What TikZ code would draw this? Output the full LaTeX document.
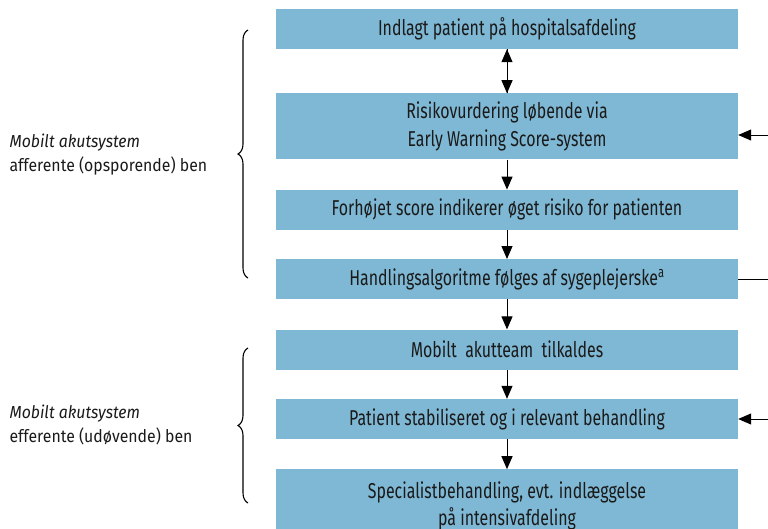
\documentclass[tikz,border=0pt]{standalone}
\usepackage{fontspec}
\setmainfont{Fira Sans}[FakeStretch=0.74]
\newfontfamily\sidefont{Fira Sans}[FakeStretch=0.91]
\usepackage{tikz}
\usetikzlibrary{positioning,arrows.meta,decorations.pathreplacing}
\definecolor{boxblue}{RGB}{127,184,212}
\definecolor{ink}{RGB}{26,26,26}

\begin{document}
\begin{tikzpicture}[x=1pt,y=-1pt,node distance = 30pt,
    box/.style={fill=boxblue, minimum width=462pt, minimum height=40pt, inner sep=2pt,
                align=center, text=ink, font=\fontsize{21.5}{28}\selectfont},
    arr/.style={-{Triangle[length=13pt,width=11pt]}, line width=1pt},
    brc/.style={decorate, decoration={brace, amplitude=10pt, aspect=0.5}, line width=1.1pt},
    side/.style={anchor=west, align=left, text=ink, font=\sidefont\fontsize{17.4}{24}\selectfont}]
    \useasboundingbox (0,0) rectangle (768,528);
            \node (b1) [box] at (507,29) {Indlagt patient på hospitalsafdeling};
            \node (b2) [box, minimum height=66pt, below=44pt of b1] {Risikovurdering løbende via\\Early Warning Score-system};
            \node (b3) [box, below=of b2] {Forhøjet score indikerer øget risiko for patienten};
            \node (b4) [box, below=29pt of b3] {Handlingsalgoritme følges af sygeplejerske\textsuperscript{a}};
            \node (b5) [box, below=of b4] {Mobilt\ \ akutteam\ \ tilkaldes};
            \node (b6) [box, below=29pt of b5] {Patient stabiliseret og i relevant behandling};
            \node (b7) [box, minimum height=72pt, font=\fontsize{21.5}{27}\selectfont, below=of b6] {Specialistbehandling, evt. indlæggelse\\på intensivafdeling};
            % feedback ends, off the page
            \coordinate (f1) at (770,135);
            \coordinate (f2) at (770,278);
            \coordinate (f3) at (770,417);
            \draw [arr] (b1.south) -- (b2.north);
            \draw [arr] (b2.north) -- (b1.south);
            \draw [arr] (b2.south) -- (b3.north);
            \draw [arr] (b3.south) -- (b4.north);
            \draw [arr] (b4.south) -- (b5.north);
            \draw [arr] (b5.south) -- (b6.north);
            \draw [arr] (b6.south) -- (b7.north);
            \draw [arr] (f1) -- (f1 -| b2.east);
            \draw [line width=1pt] (b4.east) -- (b4.east -| f2);
            \draw [arr] (b6.east -| f3) -- (b6.east);
            % braces
            \coordinate (t1) at (248,30);
            \coordinate (u1) at (248,278);
            \coordinate (t2) at (248,348);
            \coordinate (u2) at (248,503);
            \draw [brc] (u1) -- (t1);
            \draw [brc] (u2) -- (t2);
            \node (s1) [side] at (6,155) {\itshape Mobilt akutsystem\\afferente (opsporende) ben};
            \node (s2) [side] at (6,425) {\itshape Mobilt akutsystem\\efferente (udøvende) ben};
\end{tikzpicture}
\end{document}
